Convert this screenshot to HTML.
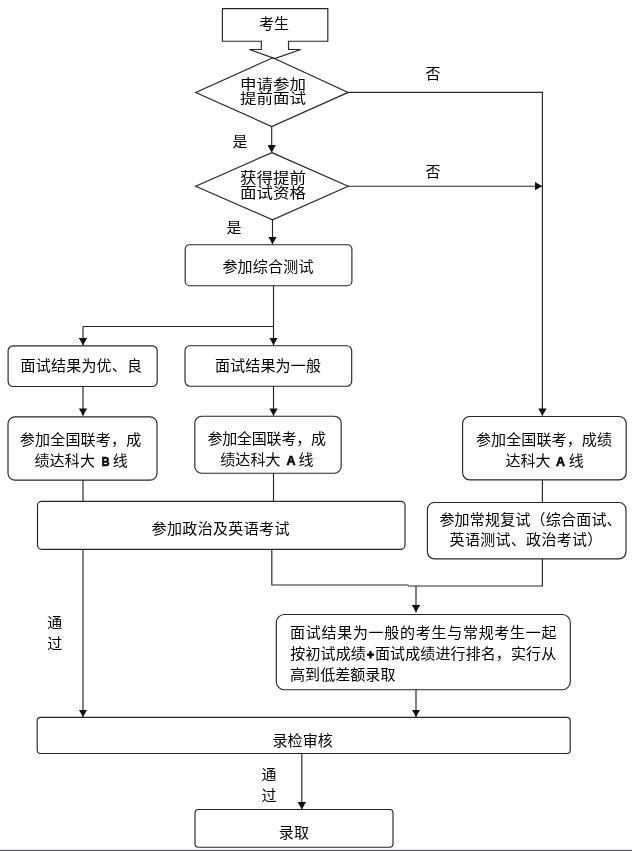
<!DOCTYPE html>
<html lang="zh-CN">
<head>
<meta charset="utf-8">
<title>提前面试流程图</title>
<style>
html,body{margin:0;padding:0;background:#fff;}
body{width:632px;height:851px;position:relative;overflow:hidden;
  font-family:"Liberation Sans","Noto Sans CJK SC",sans-serif;color:#000;}
#chart{position:absolute;left:0;top:0;width:632px;height:851px;display:block;}
.t{position:absolute;white-space:nowrap;font-size:15px;line-height:20px;height:20px;
  font-weight:400;letter-spacing:0.07px;}
.d{position:absolute;white-space:nowrap;font-size:15px;line-height:15.2px;font-weight:400;
  letter-spacing:0;text-align:center;transform-origin:0 0;transform:scale(1.1,0.9);}
#labels{position:absolute;left:0;top:0;width:632px;height:851px;will-change:transform;}
.l{font-family:"Liberation Sans",sans-serif;font-weight:bold;font-size:12.5px;display:inline-block;
  text-align:center;letter-spacing:0;-webkit-text-stroke:0.55px #000;box-sizing:border-box;vertical-align:baseline;}
#foot{position:absolute;left:0;top:848px;width:632px;height:3px;
  background:linear-gradient(to bottom,#f5f8fc 0,#f5f8fc 1px,#e2e7ef 1px,#e2e7ef 2px,#56585d 2px,#56585d 3px);}
</style>
</head>
<body>
<svg id="chart" width="632" height="851" viewBox="0 0 632 851">
  <defs>
    <marker id="ah" viewBox="0 0 7.4 8.4" refX="7.4" refY="4.2" markerWidth="7.4" markerHeight="8.4" markerUnits="userSpaceOnUse" orient="auto">
      <path d="M0,0 L7.4,4.2 L0,8.4 Z" fill="#111"/>
    </marker>
  </defs>
  <g fill="none" stroke="#262626" stroke-width="1.15" stroke-linejoin="miter">
    <!-- start box with block arrow -->
    <path d="M261.3,41.2 H222.4 V8.6 H327.8 V41.2 H288.5 V49.5 H300.7 L274.8,58.6 L249.4,49.5 H261.3 Z"/>
    <!-- decision 1 -->
    <path d="M272.8,57.8 L348.2,92.4 L271.7,126.5 L195.7,92.4 Z"/>
    <!-- decision 2 -->
    <path d="M271.9,152.6 L348.2,186.2 L272.5,219.8 L195.7,186.2 Z"/>
    <!-- boxes -->
    <rect x="185.2" y="244.7" width="166.7" height="41" rx="4.5" ry="4.5"/>
    <rect x="8.1" y="345.8" width="149.1" height="40.7" rx="5" ry="5"/>
    <rect x="185" y="345.7" width="166.7" height="40.5" rx="5" ry="5"/>
    <rect x="8" y="416.8" width="149" height="63.4" rx="7" ry="7"/>
    <rect x="194.8" y="416.2" width="146.4" height="57" rx="7" ry="7"/>
    <rect x="462.6" y="416.5" width="163.6" height="63.3" rx="7" ry="7"/>
    <rect x="37.5" y="501.3" width="367.5" height="48" rx="4" ry="4"/>
    <rect x="427.4" y="502.5" width="198.6" height="56.3" rx="7" ry="7"/>
    <rect x="276.3" y="614.5" width="294" height="75.2" rx="8" ry="8"/>
    <rect x="37.2" y="717.3" width="533" height="36.2" rx="3.5" ry="3.5"/>
    <rect x="195" y="809.5" width="198" height="37.7" rx="3.5" ry="3.5"/>
    <!-- plain connectors -->
    <path d="M348.2,92.4 H542.4 V406"/>
    <path d="M83,326.5 H273.5"/>
    <path d="M83,480 V501.3"/>
    <path d="M273.5,473.2 V501.3"/>
    <path d="M542.4,479.8 V502.5"/>
    <path d="M271.8,549.3 V585 H408.5"/>
    <path d="M408,586 H542.4 V558.8"/>
  </g>
  <g fill="none" stroke="#262626" stroke-width="1.15" marker-end="url(#ah)">
    <path d="M542.4,405 V415.8"/>
    <path d="M348.2,186.2 H542.2"/>
    <path d="M271.7,126.5 V152.5"/>
    <path d="M272.5,219.8 V244.3"/>
    <path d="M273.5,285.8 V345.2"/>
    <path d="M83,326.5 V345.2"/>
    <path d="M83,386.1 V415.8"/>
    <path d="M273.5,386.2 V415.8"/>
    <path d="M83,549.3 V717"/>
    <path d="M416,586 V612.4"/>
    <path d="M416,689.7 V717"/>
    <path d="M301.8,753.5 V809.4"/>
  </g>
</svg>

<div id="labels">
<div class="t" style="left:259px;top:14px;">考生</div>

<div class="d" style="left:240.2px;top:77.1px;">申请参加</div>
<div class="d" style="left:240.2px;top:90.9px;">提前面试</div>
<div class="d" style="left:239.6px;top:170.6px;transform:scale(1.1,0.96);">获得提前</div>
<div class="d" style="left:239.6px;top:184.9px;transform:scale(1.1,0.97);">面试资格</div>

<div class="t" style="left:425.5px;top:63.5px;">否</div>
<div class="t" style="left:425.5px;top:162px;">否</div>
<div class="t" style="left:232.6px;top:132px;">是</div>
<div class="t" style="left:226.6px;top:218px;">是</div>

<div class="t" style="left:222.4px;top:257px;letter-spacing:0.2px;">参加综合测试</div>
<div class="t" style="left:20.6px;top:355.8px;letter-spacing:0.2px;">面试结果为优、良</div>
<div class="t" style="left:215px;top:356.3px;letter-spacing:0.15px;">面试结果为一般</div>

<div class="t" style="left:19.8px;top:430px;letter-spacing:0.2px;">参加全国联考，成</div>
<div class="t" style="left:34.4px;top:451px;letter-spacing:0.2px;">绩达科大<span class="l" style="width:17.5px;padding-left:4px;transform:scaleX(0.9);">B</span>线</div>

<div class="t" style="left:207.4px;top:429.2px;letter-spacing:-0.2px;">参加全国联考，成</div>
<div class="t" style="left:220.2px;top:450.2px;letter-spacing:0.1px;">绩达科大<span class="l" style="width:18px;padding-left:3px;">A</span>线</div>

<div class="t" style="left:476px;top:430px;letter-spacing:0.12px;">参加全国联考，成绩</div>
<div class="t" style="left:505.4px;top:451.2px;letter-spacing:0.1px;">达科大<span class="l" style="width:18px;padding-left:1.7px;">A</span>线</div>

<div class="t" style="left:151.6px;top:518.5px;letter-spacing:0.35px;">参加政治及英语考试</div>

<div class="t" style="left:439.4px;top:510px;letter-spacing:0.2px;">参加常规复试（综合面试、</div>
<div class="t" style="left:449.6px;top:530.2px;letter-spacing:0.3px;">英语测试、政治考试）</div>

<div class="t" style="left:290px;top:622.6px;letter-spacing:0.72px;">面试结果为一般的考生与常规考生一起</div>
<div class="t" style="left:290.3px;top:644.2px;letter-spacing:0.12px;">按初试成绩<span class="l" style="width:9px;font-size:12px;-webkit-text-stroke:0.9px #000;">+</span>面试成绩进行排名，实行从</div>
<div class="t" style="left:290px;top:665px;">高到低差额录取</div>

<div class="t" style="left:272.4px;top:731.2px;letter-spacing:0.15px;">录检审核</div>
<div class="t" style="left:278.8px;top:823px;letter-spacing:0.2px;">录取</div>

<div class="t" style="left:47.3px;top:613px;">通</div>
<div class="t" style="left:47.3px;top:633.6px;">过</div>
<div class="t" style="left:261.5px;top:764.6px;">通</div>
<div class="t" style="left:261.5px;top:786px;">过</div>
</div>

<div id="foot"></div>
</body>
</html>
